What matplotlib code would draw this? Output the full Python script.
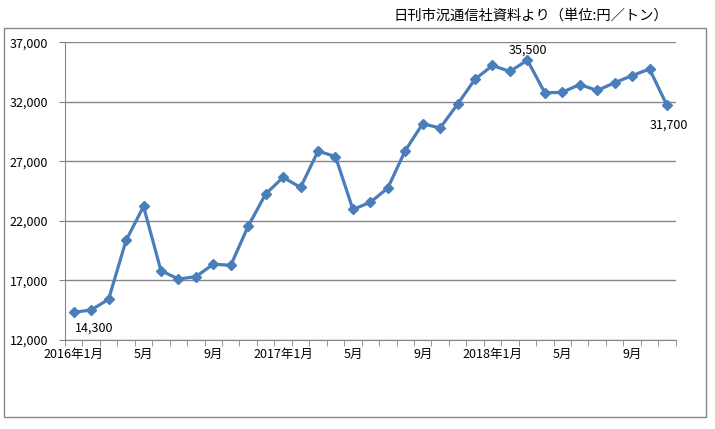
import matplotlib
matplotlib.use("Agg")
import matplotlib.pyplot as plt
from matplotlib.patches import Rectangle
import numpy as np

plt.rcParams['font.family'] = ['Noto Sans CJK JP', 'DejaVu Sans']

# 月次価格（円／トン） 2016年1月〜2018年11月
precios = [14300, 14500, 15400, 20350, 23200, 17800, 17100, 17300, 18350, 18250,
           21550, 24250, 25650, 24800, 27850, 27400, 22950, 23550, 24750, 27900,
           30150, 29800, 31800, 33900, 35050, 34550, 35500, 32750, 32800, 33450,
           32950, 33600, 34200, 34750, 31700]
etiquetas_x = ["2016年1月", "5月", "9月", "2017年1月", "5月", "9月", "2018年1月", "5月", "9月"]
marcas_y = [12000, 17000, 22000, 27000, 32000, 37000]
titulo = "日刊市況通信社資料より（単位:円／トン）"

gris = "#868686"
azul = "#4A7EBB"

fig = plt.figure(figsize=(7.15, 4.29), dpi=100)
ax = fig.add_axes([65 / 715, 1 - 339.7 / 429, 610.7 / 715, 297.4 / 429])

x = np.arange(len(precios))
ax.plot(x, precios, color=azul, linewidth=2.3, marker='D', markersize=5.5,
        markerfacecolor=azul, markeredgecolor=azul)

ax.set_xlim(-0.5, len(precios) - 0.5)
ax.set_ylim(marcas_y[0], marcas_y[-1])

# Eje y y rejilla
ax.set_yticks(marcas_y)
ax.set_yticklabels([f"{v:,}" for v in marcas_y], fontsize=9)
ax.yaxis.grid(True, color=gris, linewidth=1)
ax.tick_params(axis='y', direction='out', length=4, color=gris, pad=8)

# Eje x: etiquetas cada 4 meses, marcas entre categorías
ax.set_xticks(x[::4])
ax.set_xticklabels(etiquetas_x, fontsize=9)
ax.set_xticks(np.arange(-0.5, len(precios), 1), minor=True)
ax.tick_params(axis='x', which='major', length=0, pad=6)
ax.tick_params(axis='x', which='minor', direction='out', length=4, color=gris)

for lado in ['top', 'right']:
    ax.spines[lado].set_visible(False)
for lado in ['left', 'bottom']:
    ax.spines[lado].set_color(gris)
ax.set_axisbelow(True)

# Etiquetas de datos
ax.annotate(f"{precios[0]:,}", (x[0], precios[0]), xytext=(14.5, -11.5),
            textcoords='offset points', ha='center', va='center', fontsize=9)
i_max = int(np.argmax(precios))
ax.annotate(f"{precios[i_max]:,}", (x[i_max], precios[i_max]), xytext=(0.5, 7.5),
            textcoords='offset points', ha='center', va='center', fontsize=9)
ax.annotate(f"{precios[-1]:,}", (x[-1], precios[-1]), xytext=(1.5, -14),
            textcoords='offset points', ha='center', va='center', fontsize=9)

# Título / fuente
fig.text(668 / 715, 1 - 16 / 429, titulo, ha='right', va='center', fontsize=10.3)

# Marco exterior
fig.patches.append(Rectangle((4 / 715, 1 - 416.7 / 429), 702 / 715, 388.4 / 429,
                             transform=fig.transFigure, fill=False,
                             edgecolor=gris, linewidth=1))

fig.savefig("out.png", dpi=100)
